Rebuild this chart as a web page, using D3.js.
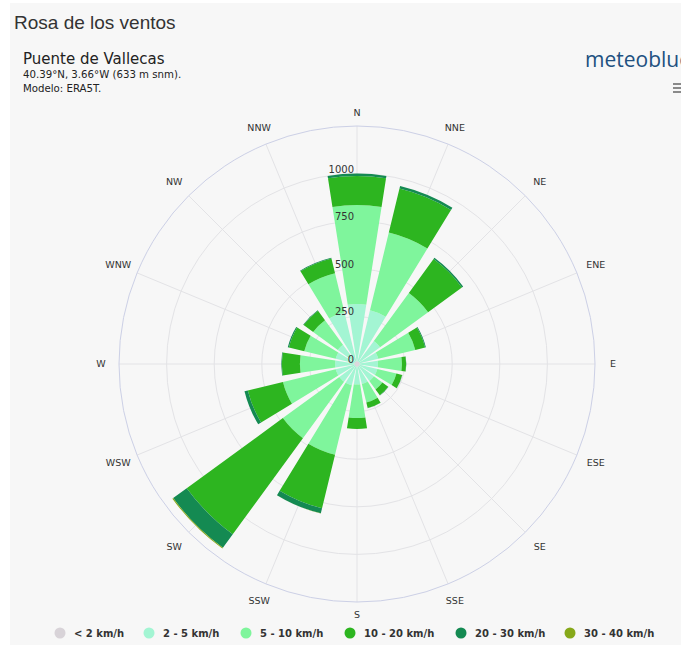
<!DOCTYPE html>
<html>
<head>
<meta charset="utf-8">
<script src="https://cdn.jsdelivr.net/npm/d3@7/dist/d3.min.js"></script>
<style>
  body { margin: 0; background: #fff; }
  text { font-family: "DejaVu Sans", sans-serif; fill: #333; }
</style>
</head>
<body>
<div id="chart"></div>
<script>
// compass sectors, clockwise from north
const directions = ["N","NNE","NE","ENE","E","ESE","SE","SSE","S","SSW","SW","WSW","W","WNW","NW","NNW"];
const speedBins = ["< 2 km/h","2 - 5 km/h","5 - 10 km/h","10 - 20 km/h","20 - 30 km/h","30 - 40 km/h"];
const binColors = ["#d8d3d8","#a3f5d3","#7ff59c","#2db520","#148a52","#86a819"];

// hours per sector for each speed bin
const below2   = [14, 14, 14, 14, 14, 14, 14, 14, 14, 14, 14, 14, 14, 14, 14, 14];
const from2to5 = [301, 276, 136, 101, 96, 96, 96, 94, 94, 101, 101, 101, 101, 101, 111, 266];
const from5to10 = [520, 420, 312, 200, 126, 103, 55, 100, 176, 375, 367, 285, 185, 170, 160, 210];
const from10to20 = [152, 238, 220, 53, 22, 31, 38, 30, 57, 290, 625, 190, 95, 83, 62, 80];
const from20to30 = [13, 14, 8, 4, 1, 1, 1, 1, 1, 27, 88, 18, 3, 6, 3, 4];
const from30to40 = [0, 0, 0, 0, 0, 0, 0, 0, 0, 1, 5, 0, 0, 0, 0, 0];

const radialTicks = [0, 250, 500, 750, 1000];
const radialMax = 1250;

function plotRose() {
  let svg = d3.select("#chart").append("svg")
    .attr("width", 681)
    .attr("height", 651);

  // card background
  svg.append("rect")
    .attr("x", 10).attr("y", 3)
    .attr("width", 671).attr("height", 642)
    .attr("fill", "#f7f7f7");

  svg.append("text")
    .attr("x", 14).attr("y", 29)
    .style("font-family", "'Liberation Sans', Arial, sans-serif")
    .style("font-size", "19px")
    .text("Rosa de los ventos");

  svg.append("text")
    .attr("x", 23).attr("y", 64)
    .style("font-size", "15px")
    .style("fill", "#222")
    .text("Puente de Vallecas");
  svg.append("text")
    .attr("x", 23).attr("y", 78)
    .style("font-size", "10.2px")
    .style("fill", "#222")
    .text("40.39°N, 3.66°W (633 m snm).");
  svg.append("text")
    .attr("x", 23).attr("y", 92)
    .style("font-size", "10.2px")
    .style("fill", "#222")
    .text("Modelo: ERA5T.");

  // logo + menu icon, cut at the right edge like the original
  svg.append("text")
    .attr("x", 585).attr("y", 67)
    .style("font-family", "'Open Sans', sans-serif")
    .style("font-size", "21px")
    .style("fill", "#215080")
    .text("meteoblue");
  [84, 88, 92].forEach(function(y) {
    svg.append("line")
      .attr("x1", 673).attr("x2", 682)
      .attr("y1", y).attr("y2", y)
      .attr("stroke", "#666").attr("stroke-width", 1.5);
  });

  let cx = 357, cy = 364, R = 238;
  let g = svg.append("g").attr("transform", "translate(" + cx + "," + cy + ")");

  let step = 2 * Math.PI / directions.length;
  let x = d3.scaleBand()
    .domain(directions)
    .range([-step / 2, 2 * Math.PI - step / 2])
    .paddingInner(0.21)
    .paddingOuter(0.105);
  let y = d3.scaleLinear().domain([0, radialMax]).range([0, R]);
  let angleOf = function(d) { return x(d) + x.bandwidth() / 2; };

  // radial grid lines
  g.selectAll(".spoke")
    .data(directions)
    .enter().append("line")
      .attr("x1", 0).attr("y1", 0)
      .attr("x2", function(d) { return R * Math.sin(angleOf(d)); })
      .attr("y2", function(d) { return -R * Math.cos(angleOf(d)); })
      .attr("stroke", "#e3e3e6").attr("stroke-width", 1);

  // circular grid lines
  g.selectAll(".ring")
    .data(radialTicks.slice(1))
    .enter().append("circle")
      .attr("r", function(d) { return y(d); })
      .attr("fill", "none")
      .attr("stroke", "#e3e3e6").attr("stroke-width", 1);

  g.append("circle")
    .attr("r", y(radialMax))
    .attr("fill", "none")
    .attr("stroke", "#ccd0e6").attr("stroke-width", 1);

  // stacked bars
  let rows = directions.map(function(d, i) {
    let row = { dir: d };
    row[speedBins[0]] = below2[i];
    row[speedBins[1]] = from2to5[i];
    row[speedBins[2]] = from5to10[i];
    row[speedBins[3]] = from10to20[i];
    row[speedBins[4]] = from20to30[i];
    row[speedBins[5]] = from30to40[i];
    return row;
  });
  let stacked = d3.stack().keys(speedBins)(rows);

  let arc = d3.arc()
    .innerRadius(function(d) { return y(d[0]); })
    .outerRadius(function(d) { return y(d[1]); })
    .startAngle(function(d) { return x(d.data.dir); })
    .endAngle(function(d) { return x(d.data.dir) + x.bandwidth(); });

  g.selectAll(".layer")
    .data(stacked)
    .enter().append("g")
      .attr("fill", function(d, i) { return binColors[i]; })
    .selectAll("path")
    .data(function(d) { return d.filter(function(p) { return p[1] > p[0]; }); })
    .enter().append("path")
      .attr("d", arc);

  // radial value labels along north
  g.selectAll(".ylabel")
    .data(radialTicks)
    .enter().append("text")
      .attr("x", -3)
      .attr("y", function(d) { return -y(d) - 1; })
      .attr("text-anchor", "end")
      .style("font-size", "10px")
      .text(function(d) { return d; });

  // direction labels
  let labelR = function(a) {
    return 251 + 5 * Math.abs(Math.sin(a)) + 4 * Math.abs(Math.sin(2 * a));
  };
  g.selectAll(".dirlabel")
    .data(directions)
    .enter().append("text")
      .attr("x", function(d) { let a = angleOf(d); return labelR(a) * Math.sin(a); })
      .attr("y", function(d) { let a = angleOf(d); return -labelR(a) * Math.cos(a); })
      .attr("dy", "0.35em")
      .attr("text-anchor", "middle")
      .style("font-size", "9.5px")
      .text(function(d) { return d; });

  // legend
  let legendX = [60, 149, 246, 350, 461, 570];
  let legend = svg.append("g").attr("transform", "translate(0,633)");
  let item = legend.selectAll(".item")
    .data(speedBins)
    .enter().append("g")
      .attr("transform", function(d, i) { return "translate(" + legendX[i] + ",0)"; });
  item.append("circle")
    .attr("r", 5.5)
    .attr("fill", function(d, i) { return binColors[i]; });
  item.append("text")
    .attr("x", 14)
    .attr("dy", "0.35em")
    .style("font-size", "10px")
    .style("font-weight", "bold")
    .text(function(d) { return d; });
}

plotRose();
</script>
</body>
</html>
